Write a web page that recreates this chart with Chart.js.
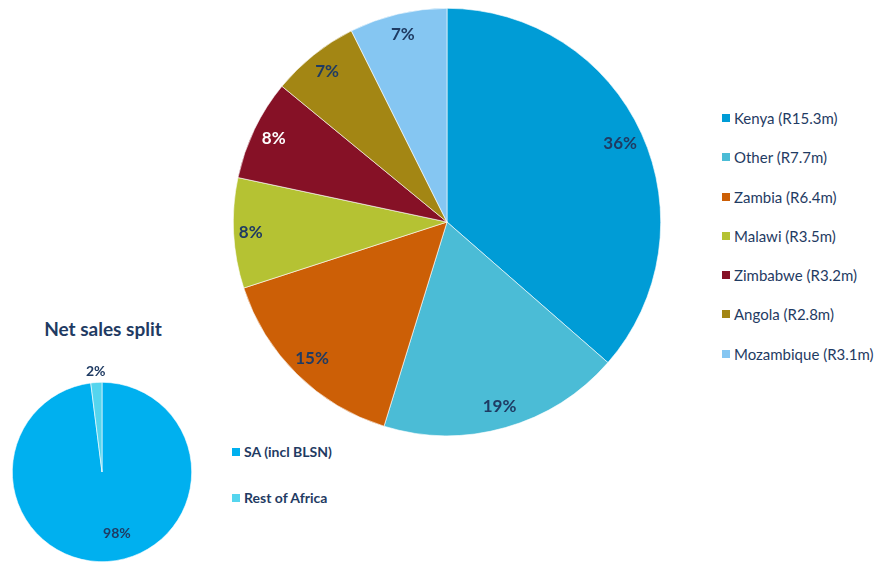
<!DOCTYPE html>
<html>
<head>
<meta charset="utf-8">
<script src="https://cdn.jsdelivr.net/npm/chart.js@4.4.0/dist/chart.umd.min.js"></script>
<style>
  html, body { margin:0; padding:0; width:876px; height:562px; overflow:hidden; background:#fff; }
  body { position:relative; font-family: Lato, "Open Sans", sans-serif; }
  canvas { position:absolute; }
  #bigPie { left:233px; top:8px; }
  #smallPie { left:0px; top:352px; }
  #title { position:absolute; left:0; width:206px; top:317px; text-align:center; font-weight:bold; font-size:19px; color:#1F3B63; }
  .legend { position:absolute; margin:0; padding:0; list-style:none; color:#1F3B63; }
  .legend li { position:relative; padding-left:12px; white-space:nowrap; }
  .legend li span.box { position:absolute; left:0; width:8px; height:8px; }
  #bigLegend { left:722px; top:108px; font-size:15px; }
  #bigLegend li { height:39.3px; line-height:20px; }
  #bigLegend li span.box { top:6px; }
  #smallLegend { left:232px; top:442px; font-size:14px; font-weight:bold; }
  #smallLegend li { height:46px; line-height:20px; }
  #smallLegend li span.box { top:6px; }
</style>
</head>
<body>
<canvas id="bigPie" width="428" height="428"></canvas>
<div id="title">Net sales split</div>
<canvas id="smallPie" width="204" height="240"></canvas>
<ul id="bigLegend" class="legend"></ul>
<ul id="smallLegend" class="legend"></ul>
<script>
// ---- data ----
const regions = ['Kenya', 'Other', 'Zambia', 'Malawi', 'Zimbabwe', 'Angola', 'Mozambique'];
const regionSalesRm = [15.3, 7.7, 6.4, 3.5, 3.2, 2.8, 3.1];
const regionPctLabels = ['36%', '19%', '15%', '8%', '8%', '7%', '7%'];
const splitCategories = ['SA (incl BLSN)', 'Rest of Africa'];
const splitValues = [98, 2];
const splitPctLabels = ['98%', '2%'];

// ---- styles ----
const regionColors = ['#009CD6', '#4BBCD6', '#CC5F06', '#B5C233', '#861126', '#A38614', '#85C6F2'];
const splitColors = ['#00B0EF', '#55D5EE'];
const navy = '#1F3B63';

const sliceLabels = {
  id: 'sliceLabels',
  afterDatasetsDraw(chart, args, opts) {
    const meta = chart.getDatasetMeta(0);
    const ctx = chart.ctx;
    ctx.save();
    ctx.font = opts.font;
    ctx.textAlign = 'center';
    ctx.textBaseline = 'middle';
    meta.data.forEach((arc, i) => {
      const p = arc.getProps(['x', 'y', 'startAngle', 'endAngle', 'outerRadius'], true);
      const mid = (p.startAngle + p.endAngle) / 2;
      const f = opts.radius[i];
      const off = (opts.offsets && opts.offsets[i]) || [0, 0];
      const px = p.x + Math.cos(mid) * p.outerRadius * f + off[0];
      const py = p.y + Math.sin(mid) * p.outerRadius * f + off[1];
      ctx.fillStyle = opts.colors[i];
      ctx.fillText(opts.labels[i], px, py);
    });
    ctx.restore();
  }
};

Chart.defaults.font.family = 'Lato, "Open Sans", sans-serif';

new Chart(document.getElementById('bigPie'), {
  type: 'pie',
  data: {
    labels: regions,
    datasets: [{
      data: regionSalesRm,
      backgroundColor: regionColors,
      borderColor: '#ffffff',
      borderWidth: 0.6
    }]
  },
  options: {
    responsive: false,
    animation: false,
    devicePixelRatio: 1,
    layout: { padding: 0 },
    plugins: {
      legend: { display: false },
      tooltip: { enabled: false },
      sliceLabels: {
        labels: regionPctLabels,
        radius: [0.89, 0.9, 0.9, 0.92, 0.9, 0.9, 0.9],
        colors: [navy, navy, navy, navy, '#ffffff', navy, navy],
        font: 'bold 17px Lato, "Open Sans", sans-serif'
      }
    }
  },
  plugins: [sliceLabels]
});

new Chart(document.getElementById('smallPie'), {
  type: 'pie',
  data: {
    labels: splitCategories,
    datasets: [{
      data: splitValues,
      backgroundColor: splitColors,
      borderColor: '#ffffff',
      borderWidth: 0.6
    }]
  },
  options: {
    responsive: false,
    animation: false,
    devicePixelRatio: 1,
    layout: { padding: { left: 12, right: 12, top: 30, bottom: 30 } },
    plugins: {
      legend: { display: false },
      tooltip: { enabled: false },
      sliceLabels: {
        labels: splitPctLabels,
        radius: [0.69, 1.12],
        offsets: [[11, 0], [0, 0]],
        colors: [navy, navy],
        font: 'bold 14px Lato, "Open Sans", sans-serif'
      }
    }
  },
  plugins: [sliceLabels]
});

// ---- HTML legends built from the data arrays ----
const bigLegend = document.getElementById('bigLegend');
regions.forEach((name, i) => {
  const li = document.createElement('li');
  const box = document.createElement('span');
  box.className = 'box';
  box.style.background = regionColors[i];
  li.appendChild(box);
  li.appendChild(document.createTextNode(name + ' (R' + regionSalesRm[i].toFixed(1) + 'm)'));
  bigLegend.appendChild(li);
});
const smallLegend = document.getElementById('smallLegend');
splitCategories.forEach((name, i) => {
  const li = document.createElement('li');
  const box = document.createElement('span');
  box.className = 'box';
  box.style.background = splitColors[i];
  li.appendChild(box);
  li.appendChild(document.createTextNode(name));
  smallLegend.appendChild(li);
});
</script>
</body>
</html>
